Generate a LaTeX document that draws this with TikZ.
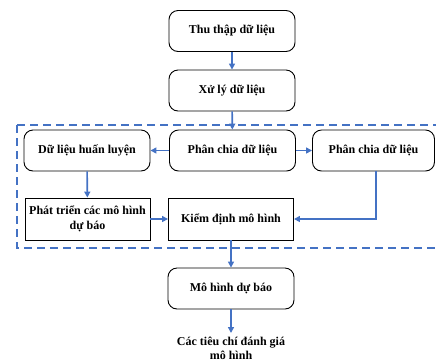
\documentclass[tikz,border=0pt]{standalone}
\usepackage{fontspec}
\setmainfont{Liberation Serif}
\usetikzlibrary{arrows.meta}
\definecolor{arrblue}{HTML}{4472C4}
\begin{document}
\begin{tikzpicture}[x=1pt,y=-1pt,
  rbox/.style={draw=black,line width=0.9pt,rounded corners=9pt,minimum width=126pt,minimum height=41pt,inner sep=0pt,font=\fontsize{12}{14}\selectfont\bfseries,align=center},
  sbox/.style={draw=black,line width=0.9pt,minimum width=125pt,minimum height=42pt,inner sep=0pt,font=\fontsize{12}{14.5}\selectfont\bfseries,align=center},
  conn/.style={draw=arrblue,line width=1.6pt,-{Triangle[length=6pt,width=6pt]}},
  grp/.style={draw=arrblue,line width=1.2pt,dash pattern=on 8pt off 5pt}]
\useasboundingbox (0,0) rectangle (436,360);
\clip (0,0) rectangle (436,360);
\node[rbox] (thu) at (232,31) {Thu thập dữ liệu};
\node[rbox] (xu) at (232,90.5) {Xử lý dữ liệu};
\draw[grp] (17,125) -- (480,125) (17,125) -- (17,248) -- (480,248);
\node[rbox] (pcm) at (232.5,150.5) {Phân chia dữ liệu};
\node[rbox,minimum width=122pt] (pcr) at (373.5,150.5) {Phân chia dữ liệu};
\node[rbox] (dlh) at (87,150.5) {Dữ liệu huấn luyện};
\node[sbox] (pt) at (87.5,219) {Phát triển các mô hình\\dự báo};
\node[sbox] (kd) at (231,219) {Kiểm định mô hình};
\node[rbox] (mh) at (231,288.5) {Mô hình dự báo};
\node[font=\fontsize{12}{14.5}\selectfont\bfseries,align=center,anchor=north] (ct) at (231,333) {Các tiêu chí đánh giá\\mô hình};
\coordinate (bend) at ([xshift=2.5pt]pcr.south |- kd.east);
\draw[conn] (thu) -- (xu);
\draw[conn] (xu) -- (pcm);
\draw[conn] (pcm) -- (dlh);
\draw[conn] (pcm) -- (pcr);
\draw[conn] (dlh) -- (pt);
\draw[conn] (pt) -- (kd);
\draw[conn] ([xshift=2.5pt]pcr.south) -- (bend) -- (kd.east);
\draw[conn] (kd) -- (mh);
\draw[conn] (mh) -- (ct);
\end{tikzpicture}
\end{document}
